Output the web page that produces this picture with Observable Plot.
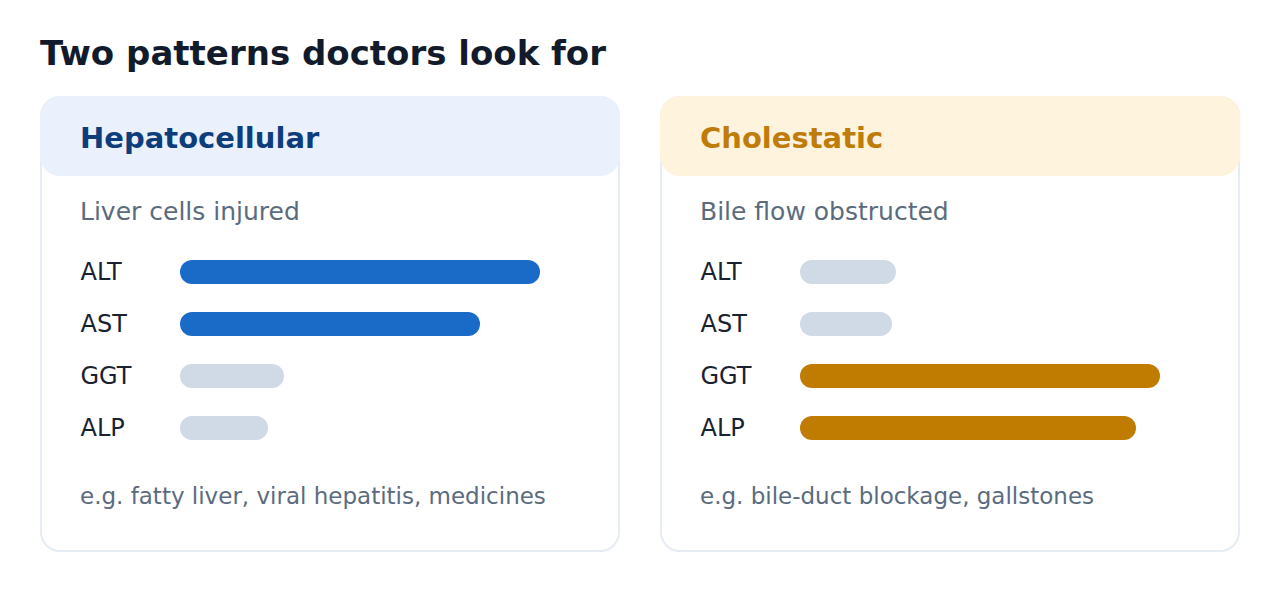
<!DOCTYPE html>
<html>
<head>
<meta charset="utf-8">
<script src="https://cdn.jsdelivr.net/npm/d3@7"></script>
<script src="https://cdn.jsdelivr.net/npm/@observablehq/plot@0.6"></script>
<style>
  html, body { margin: 0; padding: 0; background: #ffffff; }
  body { font-family: "DejaVu Sans", sans-serif; }
  #page { position: relative; width: 1280px; height: 600px; overflow: hidden; }
  .abs { position: absolute; white-space: nowrap; line-height: 1; }
  .title { left: 40px; top: 35.5px; font-size: 34px; font-weight: bold; color: #111b2b; }
  .card { position: absolute; top: 96px; width: 580px; height: 456px; box-sizing: border-box;
          border: 2px solid #e6ecf3; border-radius: 20px; background: #fff; }
  .band { position: absolute; top: 96px; width: 580px; height: 80px; border-radius: 20px; }
  .head { top: 123.8px; font-size: 29px; font-weight: bold; }
  .sub { top: 199px; font-size: 25px; color: #5b6b7e; }
  .note { top: 484.5px; font-size: 23px; color: #5b6b7e; }
  .chart { position: absolute; top: 232px; }
</style>
</head>
<body>
<div id="page"></div>
<script>
// Liver enzyme markers shown in each panel
const markers = ["ALT", "AST", "GGT", "ALP"];

// Relative elevation of each marker in the two injury patterns
const hepatocellularLevels = [90, 75, 26, 22];
const cholestaticLevels = [24, 23, 90, 84];

// Markers that stand out in each pattern
const hepatocellularRaised = ["ALT", "AST"];
const cholestaticRaised = ["GGT", "ALP"];

const panelTitles = ["Hepatocellular", "Cholestatic"];
const panelSubtitles = ["Liver cells injured", "Bile flow obstructed"];
const panelExamples = ["e.g. fatty liver, viral hepatitis, medicines", "e.g. bile-duct blockage, gallstones"];

const panels = [
  {title: panelTitles[0], subtitle: panelSubtitles[0], note: panelExamples[0],
   levels: hepatocellularLevels, raised: hepatocellularRaised,
   left: 40, band: "#eaf1fc", ink: "#0d3d7a", accent: "#1a6ac8"},
  {title: panelTitles[1], subtitle: panelSubtitles[1], note: panelExamples[1],
   levels: cholestaticLevels, raised: cholestaticRaised,
   left: 660, band: "#fef3dc", ink: "#c07c0a", accent: "#c07c00"}
];

const page = document.getElementById("page");

function addDiv(cls, text, style) {
  const el = document.createElement("div");
  el.className = cls;
  if (text) el.textContent = text;
  Object.assign(el.style, style || {});
  page.appendChild(el);
  return el;
}

addDiv("abs title", "Two patterns doctors look for");

for (const p of panels) {
  addDiv("card", null, {left: p.left + "px"});
  addDiv("band", null, {left: p.left + "px", background: p.band});
  addDiv("abs head", p.title, {left: (p.left + 40) + "px", color: p.ink});
  addDiv("abs sub", p.subtitle, {left: (p.left + 40) + "px"});
  addDiv("abs note", p.note, {left: (p.left + 40) + "px"});

  const rows = markers.map((m, i) => ({marker: m, level: p.levels[i], raised: p.raised.includes(m)}));

  const chart = Plot.plot({
    width: 500,
    height: 236,
    marginLeft: 100,
    marginRight: 0,
    marginTop: 0,
    marginBottom: 0,
    style: {fontFamily: "DejaVu Sans, sans-serif", background: "transparent", overflow: "visible"},
    x: {domain: [0, 100], axis: null},
    y: {domain: markers, padding: 0.54, round: false, axis: null},
    marks: [
      Plot.barX(rows.filter(d => !d.raised), {x: "level", y: "marker", fill: "#cfdae6", rx: 12}),
      Plot.barX(rows.filter(d => d.raised), {x: "level", y: "marker", fill: p.accent, rx: 12}),
      Plot.axisY({tickSize: 0, tickPadding: 0, textAnchor: "start", dx: -100,
                  fontSize: 24, fill: "#1a2230", label: null})
    ]
  });
  const wrap = addDiv("chart", null, {left: (p.left + 40) + "px"});
  wrap.appendChild(chart);
}
</script>
</body>
</html>
